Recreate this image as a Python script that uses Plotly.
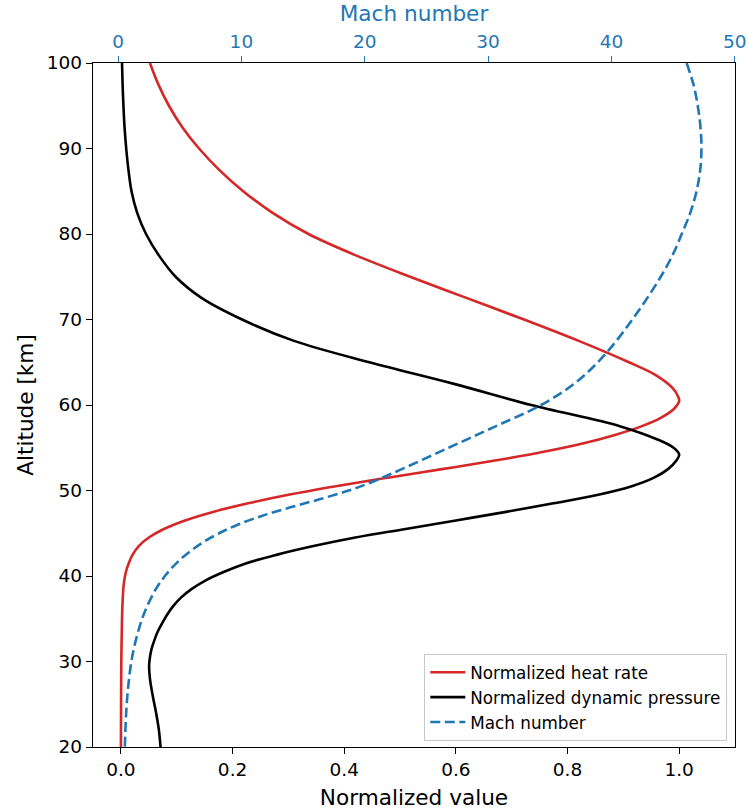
import plotly.graph_objects as go

# Altitude profiles along the entry trajectory
alt_heat = [100, 97.5, 95, 92.5, 90, 87.5, 85, 82.5, 80, 77.5, 75, 72.5, 70, 67.5, 65, 63.5,
            62, 61, 60.5, 59.5, 58.5, 57.5, 56.5, 55.5, 54.5, 53.5, 52.5, 51.5, 50.5, 49.5,
            48.5, 47.5, 46.5, 45.5, 44.5, 43.5, 42.5, 41.5, 40.5, 39, 37, 35, 30, 25, 20]
heat_rate = [0.052, 0.067, 0.086, 0.110, 0.140, 0.176, 0.219, 0.271, 0.336, 0.421, 0.518,
             0.62, 0.722, 0.82, 0.91, 0.958, 0.988, 0.998, 1.0, 0.99, 0.967, 0.932, 0.885,
             0.827, 0.755, 0.67, 0.575, 0.478, 0.385, 0.30, 0.228, 0.165, 0.115, 0.077,
             0.05, 0.032, 0.021, 0.014, 0.009, 0.005, 0.003, 0.002, 0.0007, 0.0003, 0.0]

alt_dyn = [100, 97.5, 95, 92.5, 90, 87.5, 85, 82.5, 80, 77.5, 75, 72.5, 70, 67.5, 65, 62.5,
           60, 57.5, 56, 55, 54.2, 53.5, 52.5, 51.5, 50.5, 49.5, 48.5, 47.5, 46.5, 45.5,
           44.5, 43.5, 42.5, 41.5, 40.5, 39.5, 38.5, 37.5, 36.5, 35.5, 34.5, 33.5, 32.5,
           31.5, 30.5, 29.5, 28, 26, 24, 22, 20]
dyn_pressure = [0.002, 0.003, 0.0045, 0.0065, 0.0095, 0.0135, 0.019, 0.029, 0.045, 0.068,
                0.098, 0.145, 0.217, 0.31, 0.445, 0.595, 0.735, 0.895, 0.96, 0.99, 1.0,
                0.995, 0.98, 0.955, 0.915, 0.855, 0.775, 0.69, 0.60, 0.51, 0.42, 0.345,
                0.28, 0.225, 0.185, 0.152, 0.127, 0.108, 0.094, 0.083, 0.074, 0.066, 0.060,
                0.055, 0.052, 0.0505, 0.052, 0.057, 0.063, 0.068, 0.071]

alt_mach = [100, 97.5, 95, 92.5, 90, 87.5, 85, 82.5, 80, 77.5, 75, 72.5, 70, 67.5, 65, 62.5,
            60, 57.5, 55, 52.5, 51, 50, 49, 48, 47, 46, 45, 44, 43, 42, 41, 40, 39, 38, 36,
            34, 32, 30, 27, 24, 20]
mach = [46.1, 46.65, 47.0, 47.22, 47.3, 47.2, 46.9, 46.4, 45.7, 44.95, 44.0, 42.9, 41.7,
        40.4, 38.9, 37.0, 34.3, 30.6, 26.8, 23.0, 20.6, 18.7, 16.4, 13.9, 11.6, 9.7, 8.2,
        6.95, 5.95, 5.1, 4.4, 3.8, 3.3, 2.88, 2.22, 1.73, 1.36, 1.08, 0.82, 0.66, 0.55]

norm_ticks = [0.0, 0.2, 0.4, 0.6, 0.8, 1.0]
mach_ticks = [0, 10, 20, 30, 40, 50]
alt_ticks = [20, 30, 40, 50, 60, 70, 80, 90, 100]

RED = "#d62728"
BLUE = "#1f77b4"
FONT = "DejaVu Sans"

fig = go.Figure()
fig.add_trace(go.Scatter(x=heat_rate, y=alt_heat, mode="lines", name="Normalized heat rate",
                         line=dict(color=RED, width=2.6, shape="spline", smoothing=1.0)))
fig.add_trace(go.Scatter(x=dyn_pressure, y=alt_dyn, mode="lines",
                         name="Normalized dynamic pressure",
                         line=dict(color="black", width=2.6, shape="spline", smoothing=1.0)))
fig.add_trace(go.Scatter(x=mach, y=alt_mach, mode="lines", name="Mach number",
                         xaxis="x2", yaxis="y",
                         line=dict(color=BLUE, width=2.6, dash="10px,4.5px",
                                   shape="spline", smoothing=1.0)))

axis_common = dict(showgrid=False, zeroline=False, showline=True, linecolor="black",
                   linewidth=1.3, ticks="outside", ticklen=6, tickwidth=1.3,
                   automargin=False)

fig.update_layout(
    width=748, height=811,
    margin=dict(l=93, r=13, t=63, b=64),
    paper_bgcolor="white", plot_bgcolor="white",
    font=dict(family=FONT, color="black", size=18),
    xaxis=dict(range=[-0.05, 1.1], tickvals=norm_ticks,
               ticktext=[f"{v:.1f}" for v in norm_ticks],
               tickcolor="black", tickfont=dict(size=18.5),
               title=dict(text="Normalized value", font=dict(size=21.6), standoff=10),
               **axis_common),
    xaxis2=dict(range=[-2.03, 50.02], overlaying="x", side="top", anchor="y",
                tickvals=mach_ticks, tickcolor=BLUE,
                tickfont=dict(size=18.5, color=BLUE),
                title=dict(text="Mach number", font=dict(size=21.6, color=BLUE), standoff=3),
                **axis_common),
    yaxis=dict(range=[20, 100], tickvals=alt_ticks, mirror=True, tickcolor="black",
               tickfont=dict(size=18.5),
               title=dict(text="Altitude [km]", font=dict(size=21.6), standoff=7),
               **axis_common),
    legend=dict(x=0.988, xanchor="right", y=0.009, yanchor="bottom",
                bordercolor="#c8c8c8", borderwidth=1, bgcolor="rgba(255,255,255,0.85)",
                font=dict(size=16.8, family=FONT), itemwidth=35, tracegroupgap=0),
)

fig.write_html("out.html")
